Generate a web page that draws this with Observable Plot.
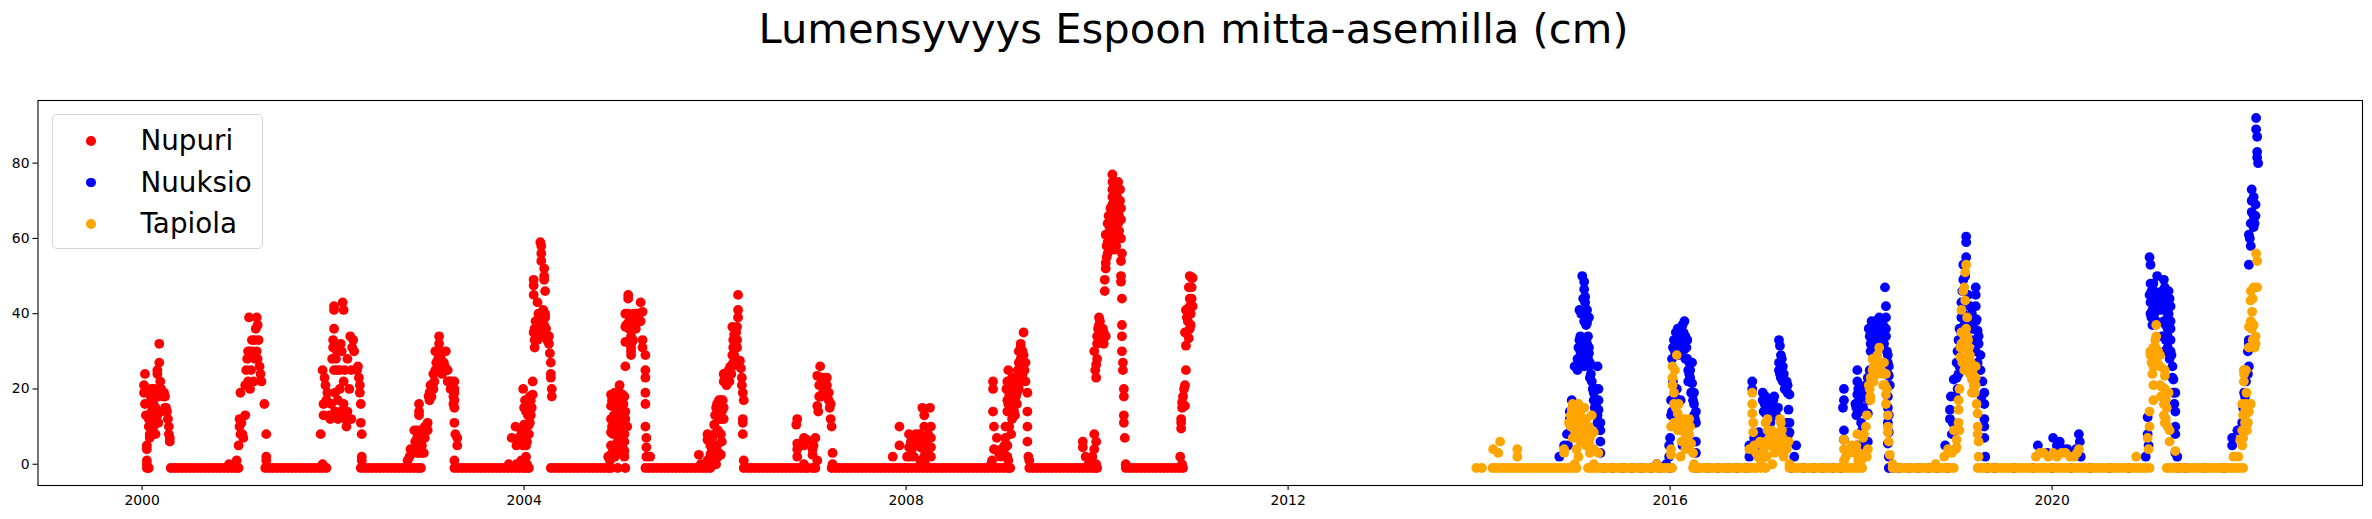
<!DOCTYPE html>
<html>
<head>
<meta charset="utf-8">
<script src="https://cdn.jsdelivr.net/npm/d3@7"></script>
<script src="https://cdn.jsdelivr.net/npm/@observablehq/plot@0.6"></script>
<style>
html,body{margin:0;padding:0;background:#fff;}
#wrap{position:relative;width:2372px;height:519px;overflow:hidden;font-family:"DejaVu Sans",sans-serif;color:#000;}
#title{height:66px;line-height:57px;text-align:center;font-size:41.67px;white-space:nowrap;padding-left:15px;box-sizing:border-box;}
#legend{position:absolute;left:51.5px;top:114px;width:209px;height:133px;border:1.4px solid #d4d4d4;border-radius:5px;background:rgba(255,255,255,.8);}
.row{position:absolute;left:0;height:42px;line-height:42px;font-size:27.78px;white-space:nowrap;}
.row i{position:absolute;left:33.5px;top:16px;width:9.7px;height:9.7px;border-radius:50%;}
.row span{position:absolute;left:88px;top:0;}
</style>
</head>
<body>
<div id="wrap">
<div id="title"></div>
<div id="plot"></div>
<div id="legend"></div>
</div>
<script>
const chartTitle = "Lumensyvyys Espoon mitta-asemilla (cm)";
const stations = ["Nupuri", "Nuuksio", "Tapiola"];
const stationColors = ["#ff0000", "#0000ff", "#ffa500"];
const yearTicks = [2000, 2004, 2008, 2012, 2016, 2020];
const depthTicks = [0, 20, 40, 60, 80];

// Readings as [decimal year, depth in cm]
const nupuri = [
[2000.02,21],[2000.02,19],[2000.03,24],[2000.03,16],[2000.04,13],[2000.05,5],[2000.05,4],[2000.05,1],[2000.05,0],[2000.05,-1],[2000.07,-1],
[2000.07,10],[2000.07,12],[2000.08,8],[2000.08,7],[2000.08,16],[2000.09,18],[2000.09,10],[2000.10,20],[2000.10,14],[2000.11,8],[2000.11,12],[2000.12,18],[2000.12,16],[2000.12,10],[2000.13,20],[2000.13,13],[2000.14,15],[2000.14,8],[2000.16,24],[2000.16,25],[2000.16,13],[2000.17,18],[2000.17,11],[2000.18,32],[2000.18,27],[2000.19,22],[2000.20,20],[2000.20,14],[2000.21,19],[2000.22,18],[2000.23,19],[2000.24,18],[2000.24,15],[2000.25,15],[2000.26,14],[2000.27,12],[2000.28,10],[2000.28,8],[2000.29,7],[2000.29,6],
[2000.91,0],[2000.99,1],[2001.01,5],[2001.01,-1],[2001.02,12],[2001.02,10],[2001.03,19],[2001.03,8],[2001.04,11],[2001.05,8],[2001.06,7],[2001.08,13],[2001.08,21],[2001.09,25],[2001.10,28],[2001.11,22],[2001.11,30],[2001.12,39],[2001.13,20],[2001.13,30],[2001.14,25],[2001.15,33],[2001.16,30],[2001.17,22],[2001.18,28],[2001.18,33],[2001.19,36],[2001.20,39],[2001.20,30],[2001.21,28],[2001.21,37],[2001.22,33],[2001.23,26],[2001.24,24],[2001.25,22],[2001.28,16],[2001.30,8],[2001.30,2],[2001.30,1],
[2001.89,0],[2001.87,8],[2001.89,25],[2001.90,13],[2001.90,16],[2001.91,23],[2001.92,21],[2001.93,17],[2001.94,19],[2001.96,13],[2001.97,12],[2001.98,16],[2001.99,28],[2002.00,31],[2002.00,33],[2002.01,36],[2002.01,41],[2002.01,42],[2002.01,25],[2002.02,19],[2002.02,14],[2002.03,28],[2002.04,30],[2002.04,25],[2002.05,17],[2002.05,12],[2002.07,20],[2002.07,25],[2002.08,32],[2002.08,14],[2002.09,30],[2002.10,43],[2002.11,41],[2002.11,22],[2002.11,16],[2002.12,25],[2002.13,12],[2002.14,10],[2002.15,14],[2002.15,28],[2002.17,20],[2002.18,34],[2002.19,25],[2002.19,12],[2002.20,31],[2002.21,33],[2002.22,30],[2002.25,25],[2002.26,26],[2002.27,23],[2002.28,21],[2002.28,19],[2002.29,16],[2002.29,11],[2002.30,8],[2002.30,2],[2002.30,1],
[2002.78,1],[2002.81,4],[2002.85,9],[2002.88,7],[2002.90,16],[2002.90,14],[2002.90,13],[2002.92,9],[2002.93,5],[2002.95,3],[2002.96,10],[2002.99,11],[2002.99,9],[2003.01,17],[2003.02,19],[2003.03,21],[2003.05,24],[2003.07,30],[2003.09,27],[2003.11,34],[2003.11,32],[2003.13,28],[2003.14,24],[2003.16,27],[2003.18,30],[2003.20,25],[2003.23,20],[2003.27,22],[2003.27,20],[2003.27,19],[2003.27,17],[2003.27,15],[2003.27,11],[2003.28,8],[2003.30,7],[2003.30,5],[2003.27,1],
[2002.80,2],[2002.83,3],[2002.85,4],[2002.86,6],[2002.88,3],[2002.88,9],[2002.90,3],[2002.90,5],[2002.91,8],[2002.92,6],[2002.94,8],[2002.95,9],[2002.96,7],[2002.97,9],[2002.98,10],[2002.93,3],
[2003.00,18],[2003.01,19],[2003.02,21],[2003.03,18],[2003.04,21],[2003.05,20],[2003.06,22],[2003.07,25],[2003.08,27],[2003.10,28],[2003.11,30],[2003.12,30],[2003.13,27],[2003.14,26],[2003.15,25],[2003.17,26],[2003.19,25],[2003.20,22],[2003.22,22],[2003.24,22],[2003.25,20],[2003.26,18],[2003.26,16],
[2003.84,0],[2003.91,10],[2003.87,7],[2003.92,5],[2003.92,0],[2003.97,1],[2003.99,20],[2004.00,15],[2004.00,10.5],[2004.02,5],[2004.02,2],[2004.03,0],[2004.04,17],[2004.05,15],[2004.05,13],[2004.05,10.5],[2004.05,8],[2004.07,13],[2004.09,22],[2004.09,18.5],
[2003.94,7],[2003.96,6],[2003.97,9],[2003.99,5],[2004.00,7],[2004.01,9],[2004.03,10],[2004.03,6],[2004.04,13],[2004.06,11],[2004.07,17],[2004.08,15],[2004.06,18],[2004.02,14],[2004.01,17],
[2004.10,49],[2004.10,47.5],[2004.10,45],[2004.10,35],[2004.11,33],[2004.11,31],[2004.14,43],[2004.15,40],[2004.15,38],[2004.16,36],[2004.17,59],[2004.18,58],[2004.18,56],[2004.18,54],[2004.21,52],[2004.21,50],[2004.21,49],[2004.22,46],[2004.22,40],[2004.22,39],[2004.22,35],[2004.26,34],[2004.26,32],[2004.27,29.5],[2004.28,27],[2004.28,24],[2004.28,23],[2004.29,20],[2004.29,18],
[2004.11,36],[2004.12,38],[2004.13,35],[2004.14,33],[2004.15,36],[2004.17,38],[2004.19,37],[2004.21,37],[2004.20,41],[2004.17,34],[2004.18,35],[2004.23,36],[2004.24,33],[2004.25,34],
[2004.88,2],[2004.91,18.5],[2004.91,15.5],[2004.91,8.5],[2004.91,5],[2004.94,17],[2004.97,15],[2004.97,4],[2004.98,-1],[2005.00,21],[2005.03,18.5],[2005.04,14],[2005.05,11],[2005.05,8],[2005.05,6],[2005.05,3.5],[2005.05,2],[2005.06,14],[2005.06,-1],[2005.08,10],
[2004.91,12],[2004.92,17],[2004.92,10],[2004.93,8],[2004.94,13],[2004.95,19],[2004.95,11],[2004.96,15],[2004.97,18],[2004.98,13],[2004.98,10],[2004.99,16],[2005.00,19],[2005.00,12],[2005.00,9],[2005.01,15],[2005.02,17],[2005.02,11],[2005.03,13],[2005.04,16],[2005.04,9],[2005.05,18],[2004.92,3],[2004.90,1],[2005.04,4],[2005.00,3],[2004.95,2],[2004.98,6],[2005.01,7],[2005.06,12],
[2005.06,40],[2005.06,36.5],[2005.06,32.5],[2005.09,45],[2005.09,44],[2005.06,26],[2005.12,34],[2005.12,30],[2005.12,29],[2005.13,32.5],[2005.15,40],[2005.20,38],[2005.22,43],[2005.24,40.5],[2005.24,33],[2005.24,31],[2005.27,29],[2005.27,25],[2005.27,23],[2005.27,19],[2005.27,16],[2005.27,10],[2005.28,7],[2005.28,4.5],[2005.28,2],[2005.32,2],
[2005.10,38],[2005.12,39],[2005.14,37],[2005.16,38],[2005.18,40],[2005.20,40],[2005.17,36],[2005.14,33],[2005.13,36],[2005.09,40],[2005.10,36],[2005.07,37],[2005.22,38],[2005.11,32],[2005.12,31],
[2005.83,2.5],[2005.85,0],[2005.92,8],[2005.92,6.5],[2005.95,5],[2005.95,2.5],[2005.92,1],[2005.99,8],[2005.99,10.5],[2005.99,2],[2005.99,5],[2006.01,0],[2006.02,5],[2006.04,17],[2006.06,17],[2006.01,15],[2006.06,12],[2006.06,8],[2006.07,6],[2006.06,2.5],[2006.09,22],[2006.09,15],[2006.09,12],[2006.09,24],[2006.13,23],[2006.15,22],[2006.16,26],[2006.18,29],[2006.18,36.5],[2006.20,34.5],[2006.20,29],[2006.23,36.5],[2006.23,33],[2006.23,31],[2006.24,39],[2006.24,41],[2006.24,45],[2006.26,27.5],[2006.27,25.5],[2006.28,23],[2006.28,21],[2006.29,19],[2006.30,17],[2006.29,12],[2006.29,11],[2006.29,8],[2006.30,1],
[2005.96,3],[2005.97,4],[2005.97,7],[2005.94,7],[2006.00,3],[2006.03,2],[2006.03,9],[2006.05,12],[2006.03,14],[2006.07,14],[2006.08,17],[2006.05,15],[2006.00,13],[2006.02,16],[2006.04,3],[2006.10,24],[2006.11,23],[2006.12,21],[2006.14,25],[2006.17,24],[2006.19,27],[2006.20,31],[2006.21,33],[2006.22,35],[2006.19,33],[2006.19,31],[2006.18,26],
[2006.86,12],[2006.85,10.5],[2006.86,5.5],[2006.86,4],[2006.86,2],[2006.93,7],[2006.93,5],[2006.93,0],[2006.96,6.5],[2007.02,4],[2007.02,2.5],[2007.05,7],[2007.03,5],[2007.07,1],
[2007.10,26],[2007.07,23.5],[2007.17,23],[2007.09,21],[2007.14,21],[2007.19,19],[2007.09,18],[2007.16,18.5],[2007.21,16],[2007.07,15.5],[2007.08,14],[2007.21,12],[2007.22,10],[2007.23,3],[2007.23,0],
[2007.11,23],[2007.12,21],[2007.13,19],[2007.14,23],[2007.15,20],[2007.17,21],[2007.11,18],[2007.19,17],[2007.20,15],
[2007.86,2],[2007.93,10],[2007.93,5],[2008.03,8],[2008.10,8],[2008.03,4.5],[2008.01,2],[2008.06,4],[2008.17,6],[2008.17,15],[2008.25,15],[2008.19,13],[2008.19,10],[2008.26,10],[2008.26,7],[2008.26,4.5],[2008.26,2],[2008.15,4.5],[2008.12,6],[2008.20,0],[2008.15,1],[2008.08,2],
[2008.05,6],[2008.07,5],[2008.14,8],[2008.16,7],[2008.20,3],[2008.22,5],[2008.23,8],[2008.04,2],[2008.19,2],
[2008.91,22],[2008.91,20],[2008.91,14],[2008.92,10],[2008.95,7],[2008.92,4],[2008.90,1],[2008.89,0],[2008.97,3],[2009.04,7],[2009.04,4.5],[2009.07,10],[2009.07,25],[2009.11,12],[2009.06,22],[2009.08,19],[2009.06,17],[2009.13,14],[2009.13,17],[2009.09,20],[2009.16,19],[2009.15,18],[2009.20,32],[2009.20,31],[2009.18,30],[2009.23,35],[2009.23,29],[2009.25,27],[2009.22,26],[2009.16,21],[2009.25,22],[2009.27,19],[2009.27,14],[2009.27,10],[2009.27,6],[2009.28,2],[2009.29,1],[2009.07,1],
[2009.08,18],[2009.09,21],[2009.10,17],[2009.11,23],[2009.12,15],[2009.12,20],[2009.13,22],[2009.14,13],[2009.15,23],[2009.16,16],[2009.17,25],[2009.18,20],[2009.18,27],[2009.19,23],[2009.20,28],[2009.21,22],[2009.22,24],[2009.22,30],[2009.23,27],[2009.24,25],[2009.05,20],[2009.07,16],[2009.06,14],[2009.08,10],[2009.09,14],[2009.10,8],[2009.04,10],[2009.03,5],[2009.02,3],[2009.06,5],[2009.06,2],[2008.99,2],[2009.00,4],
[2009.85,6],[2009.85,4.5],[2009.97,8],[2009.99,6],[2009.97,4],[2009.95,2],[2009.88,2],[2009.91,0],[2009.99,0],
[2009.99,23],[2009.99,26.5],[2010.00,28],[2009.97,30],[2010.00,32],[2010.02,39],[2010.02,37],[2010.04,35],[2010.07,35],[2010.09,34],[2010.05,33],[2010.08,46],[2010.08,49],[2010.10,55],[2010.10,58],[2010.09,61],[2010.11,64],[2010.12,66],[2010.14,68],[2010.18,63],[2010.19,67],[2010.16,77],[2010.16,75],[2010.16,73],[2010.16,71],[2010.22,75],[2010.24,73],[2010.21,71],[2010.24,70],[2010.25,68],[2010.25,65],[2010.21,64],[2010.18,65],[2010.25,60],[2010.26,56],[2010.25,54],[2010.25,50],[2010.25,48.5],[2010.26,44],[2010.26,37],[2010.26,34],[2010.26,30],[2010.27,27],[2010.27,25],[2010.28,20],[2010.28,18],[2010.28,13],[2010.28,11],[2010.29,7],[2010.30,0],
[2010.00,34],[2010.01,36],[2010.03,38],[2010.04,33],[2010.06,36],[2010.03,34],[2010.06,33],[2010.07,32],[2009.98,25],[2010.09,52],[2010.09,53.5],[2010.11,56],[2010.11,59],[2010.12,61],[2010.13,63],[2010.14,65],[2010.15,62],[2010.16,60],[2010.17,67],[2010.17,64],[2010.17,62],[2010.18,57],[2010.19,60],[2010.20,58],[2010.20,61],[2010.21,67],[2010.22,64],[2010.23,62],[2010.23,66],[2010.15,68],[2010.16,69],[2010.19,69],[2010.20,72],[2010.18,72],[2010.18,75],[2010.20,68],
[2010.87,2],[2010.89,0],[2010.88,12],[2010.88,11],[2010.88,9.5],[2010.89,16.5],[2010.89,15],[2010.92,15.5],[2010.92,21],[2010.93,25],[2010.93,31.5],[2010.96,33.5],[2010.92,35],[2010.97,36],[2010.95,38],[2010.98,37],[2010.93,41],[2010.97,42],[2011.00,42],[2010.97,44],[2010.96,47],[2010.99,47],[2010.99,49.5],[2011.00,49.5],[2010.97,50],
[2010.90,18],[2010.91,20],[2010.94,35],[2010.94,39],[2010.96,40],[2010.98,40],[2010.99,44]
];

// Days at the bare-ground reading, decimal years
const nupuriBare = [
2000.30,2000.34,2000.38,2000.42,2000.46,2000.50,2000.54,2000.58,2000.62,2000.66,2000.70,2000.74,2000.78,2000.82,2000.86,2000.90,2000.94,2000.98,
2001.29,2001.33,2001.37,2001.41,2001.45,2001.49,2001.53,2001.57,2001.61,2001.65,2001.69,2001.73,2001.77,2001.81,2001.85,2001.89,2001.93,
2002.29,2002.33,2002.37,2002.41,2002.45,2002.49,2002.53,2002.57,2002.61,2002.65,2002.69,2002.73,2002.77,2002.81,2002.85,2002.89,2002.92,
2003.27,2003.31,2003.35,2003.39,2003.43,2003.47,2003.51,2003.55,2003.59,2003.63,2003.67,2003.71,2003.75,2003.79,2003.83,2003.87,2003.91,2003.95,2003.99,2004.02,2004.05,
2004.28,2004.32,2004.36,2004.40,2004.44,2004.48,2004.52,2004.56,2004.60,2004.64,2004.68,2004.72,2004.76,2004.80,2004.84,2004.88,2004.91,
2005.27,2005.31,2005.35,2005.39,2005.43,2005.47,2005.51,2005.55,2005.59,2005.63,2005.67,2005.71,2005.75,2005.79,2005.83,2005.87,2005.91,2005.95,
2006.30,2006.34,2006.38,2006.42,2006.46,2006.50,2006.54,2006.58,2006.62,2006.66,2006.70,2006.74,2006.78,2006.82,2006.86,2006.90,2006.94,2006.97,2007.02,2007.05,
2007.22,2007.26,2007.30,2007.34,2007.38,2007.42,2007.46,2007.50,2007.54,2007.58,2007.62,2007.66,2007.70,2007.74,2007.78,2007.82,2007.86,2007.90,2007.94,2007.98,2008.02,2008.06,2008.10,2008.14,2008.18,2008.22,2008.26,2008.30,2008.34,2008.38,2008.42,2008.46,2008.50,2008.54,2008.58,2008.62,2008.66,2008.70,2008.74,2008.78,2008.82,2008.86,2008.90,2008.94,2008.98,2009.02,2009.06,2009.09,
2009.29,2009.33,2009.37,2009.41,2009.45,2009.49,2009.53,2009.57,2009.61,2009.65,2009.69,2009.73,2009.77,2009.81,2009.85,2009.89,2009.93,2009.97,2010.00,
2010.30,2010.34,2010.38,2010.42,2010.46,2010.50,2010.54,2010.58,2010.62,2010.66,2010.70,2010.74,2010.78,2010.82,2010.86,2010.90
];

const nuuksio = [
[2014.84,2],[2014.89,5],[2014.94,8],[2014.95,12],[2014.98,15],[2015.03,25],[2015.03,28],[2015.05,31],[2015.05,41],[2015.08,50],[2015.10,48.5],[2015.10,46.5],[2015.11,44.5],[2015.11,43],[2015.13,41],[2015.15,39],[2015.10,38],[2015.12,37],[2015.14,34],[2015.15,31],[2015.15,29.5],[2015.12,27],[2015.15,26],[2015.17,24],[2015.24,26],[2015.19,20],[2015.25,20],[2015.20,17],[2015.25,17],[2015.25,14.5],[2015.24,13],[2015.27,11],[2015.27,9],[2015.27,6],[2015.27,3],
[2014.92,8],[2014.93,5],[2014.95,14],[2014.96,10],[2014.97,17],[2014.99,12],[2015.01,14],[2015.00,26],[2015.04,31],[2015.04,26],[2015.05,33],[2015.06,30],[2015.07,27],[2015.08,33],[2015.09,31],[2015.09,28],[2015.10,26],[2015.06,34],[2015.12,33],[2015.13,32],[2015.13,29],[2015.14,28],[2015.16,27],[2015.16,23],[2015.18,22],[2015.20,19],[2015.22,20],[2015.21,15],[2015.23,15],[2015.24,11],[2015.07,40],[2015.09,44],[2015.12,40],[2015.13,37.5],
[2015.86,0],[2015.96,0],
[2015.99,2],[2015.99,5],[2016.00,7],[2016.01,13],[2016.01,17],[2016.02,28],[2016.06,35],[2016.09,32],[2016.15,38],[2016.13,37],[2016.18,33],[2016.15,30.5],[2016.20,27],[2016.23,27],[2016.20,24],[2016.23,21.5],[2016.25,19],[2016.25,16],[2016.27,14],[2016.27,11],[2016.27,6],[2016.27,3],[2016.13,5],[2016.11,17],[2016.06,29],[2016.09,29],
[2016.03,31],[2016.04,33],[2016.05,30],[2016.07,33],[2016.08,36],[2016.09,34],[2016.10,36],[2016.11,33],[2016.12,34],[2016.12,31],[2016.14,35],[2016.16,34],[2016.17,31],[2016.16,28],[2016.18,28],[2016.19,25],[2016.21,25],[2016.21,23],[2016.22,19],[2016.24,17],[2016.25,13],[2016.26,12],[2016.03,22],[2016.05,18],[2016.06,16],[2016.07,20],[2016.02,14],[2016.21,27],[2016.19,22],
[2016.86,22],[2016.86,20],[2016.83,5],[2016.83,2],[2016.88,7],[2016.93,8.5],[2016.97,19],[2016.99,16],[2017.09,18],[2017.00,13.5],[2017.09,15],[2017.14,33],[2017.15,31.5],[2017.16,29],[2017.14,25],[2017.18,26],[2017.18,22],[2017.23,21],[2017.25,18.5],[2017.24,14.5],[2017.25,11],[2017.25,8.5],[2017.32,5],[2017.30,2],
[2016.97,17],[2016.98,14],[2017.00,18],[2017.01,15],[2017.02,13],[2017.03,12],[2017.05,11],[2017.06,16],[2017.07,13],[2017.08,17],[2017.10,14],[2017.11,13],[2017.13,15],[2017.14,27],[2017.15,24],[2017.16,23],[2017.17,28],[2017.19,24],[2017.20,20],[2017.22,22],[2017.23,19],[2016.90,5],[2016.93,6],[2016.95,4],[2016.98,7],[2017.22,11],[2017.24,8],
[2017.82,20],[2017.82,17],[2017.81,15],[2017.82,9],[2017.82,6.5],[2017.96,25],[2017.96,22],[2017.96,18.5],[2017.95,15],[2017.95,13],[2018.07,23],[2018.07,13.5],[2018.03,10],[2018.03,6],[2018.11,38],[2018.10,36],[2018.19,39],[2018.26,39],[2018.25,47],[2018.26,42],[2018.26,36],[2018.21,34],[2018.10,32],[2018.24,32],[2018.28,29],[2018.29,26],[2018.29,23.5],[2018.28,18],[2018.29,13],[2018.29,8.5],[2018.28,5.5],
[2017.94,16],[2017.97,20],[2017.98,17],[2017.99,14],[2018.00,11],[2018.01,9],[2018.02,15],[2018.04,18],[2018.05,21],[2018.06,19],[2018.08,17],[2018.09,25],[2018.08,36],[2018.09,34],[2018.12,34],[2018.13,36],[2018.14,33],[2018.15,38],[2018.16,35],[2018.17,32],[2018.18,37],[2018.20,36],[2018.22,34],[2018.23,37],[2018.24,35],[2018.26,34],[2018.27,30],[2018.28,27],[2018.28,24],[2018.30,21],[2018.28,15],[2018.28,11],[2018.07,6],[2018.10,30],[2018.29,2],[2017.96,5],[2018.00,5],
[2018.88,5],[2018.93,12],[2018.93,14.5],[2018.97,22.5],[2019.00,27],[2019.02,24],[2019.03,36],[2019.05,39],[2019.05,43],[2019.07,49],[2019.07,53],[2019.10,55],[2019.10,59],[2019.10,60.5],[2019.20,47],[2019.20,45],[2019.20,42],[2019.21,38.5],[2019.22,35.5],[2019.23,32],[2019.25,29],[2019.25,25],[2019.27,22],[2019.29,19],[2019.29,16],[2019.29,12],[2019.29,10],[2019.29,7],[2019.30,2],
[2018.95,8],[2018.96,11],[2018.94,18],[2018.99,18],[2019.00,23],[2019.01,20],[2019.01,30],[2019.02,33],[2019.04,31],[2019.05,35],[2019.06,46],[2019.07,40],[2019.08,37],[2019.09,50],[2019.12,45],[2019.13,38],[2019.14,42],[2019.15,36],[2019.16,40],[2019.17,36],[2019.18,33],[2019.20,30],[2019.22,27],[2019.24,25],[2019.26,18],[2019.20,38],[2019.23,34],[2019.03,26],
[2019.85,5],[2020.01,7],[2020.08,6],[2020.16,4],[2020.28,8],[2020.29,6],[2020.30,2],
[2019.95,3],[2020.05,5],[2020.12,4],[2020.20,3],[2020.25,4],
[2020.98,2],[2021.01,5],[2021.00,8],[2021.00,12.5],[2021.02,55],[2021.03,53],[2021.03,48],[2021.10,50],[2021.05,44],[2021.03,40],[2021.05,37],[2021.10,44],[2021.17,49],[2021.17,45.5],[2021.20,43],[2021.24,42],[2021.22,40],[2021.24,38],[2021.24,36],[2021.17,34],[2021.24,33],[2021.24,30],[2021.26,26],[2021.27,22.5],[2021.29,19],[2021.29,14],[2021.29,10],[2021.29,8],[2021.29,3],[2021.31,2],
[2021.04,46],[2021.06,48],[2021.07,46],[2021.08,44],[2021.09,42],[2021.05,41],[2021.07,40],[2021.09,38],[2021.12,43],[2021.14,41],[2021.15,46],[2021.16,43],[2021.18,47],[2021.19,42],[2021.19,45],[2021.21,40],[2021.22,46],[2021.23,44],[2021.17,38],[2021.19,37],[2021.21,36],[2021.15,34],[2021.19,33],[2021.21,31],[2021.23,28],[2021.25,29],[2021.26,23],[2021.27,19],[2021.28,16],[2021.18,30],[2021.21,34],[2021.02,45],[2021.03,43],[2021.04,39],
[2021.885,7],[2021.885,5],[2021.94,9],[2021.99,11],[2022.01,19],[2022.06,26],[2022.06,32],[2022.06,53],[2022.08,58],[2022.06,61],[2022.11,63],[2022.11,66],[2022.13,69],[2022.09,73],[2022.11,71],[2022.136,92],[2022.136,89],[2022.147,87],[2022.147,83],[2022.147,81.5],[2022.157,80],
[2022.00,15],[2022.02,18],[2022.03,22],[2022.05,24],[2022.05,30],[2022.06,33],[2022.09,67],[2022.13,66],[2022.12,64],[2022.08,64],[2022.07,60],[2022.09,70]
];

const nuuksioBare = [
2015.30,2015.40,2015.50,2015.60,2015.70,2015.80,2015.90,2016.00,
2016.28,2016.40,2016.50,2016.60,2016.70,2016.80,2017.27,2017.40,2017.50,2017.60,2017.70,2017.78,
2018.29,2018.33,2018.40,2018.50,2018.60,2018.70,2018.80,2018.90,2019.32,2019.40,2019.60,2019.80,2020.00,2020.20,2020.40,2020.60,2020.80,2021.32,2021.40,2021.60,2021.80
];

const tapiola = [
[2014.147,4],[2014.20,3],[2014.22,6],[2014.40,4],[2014.40,2],
[2014.89,4],[2014.89,3],[2014.97,14.5],[2014.96,13],[2014.94,11],[2015.04,16],[2015.10,15],[2015.18,13],[2014.98,13],[2015.00,9],[2015.15,10],[2015.20,8.5],[2014.98,7],[2015.08,6],[2015.15,5.5],[2015.20,4],[2015.04,2],[2015.00,0],[2015.25,3],[2015.20,0],
[2014.96,10],[2014.98,16],[2015.00,15],[2015.02,14],[2015.04,13],[2015.05,11],[2015.06,14],[2015.08,12],[2015.08,9],[2015.10,11],[2015.12,12],[2015.14,9],[2015.16,7],[2015.00,11],[2015.02,7],[2015.03,9],[2015.06,6],[2015.10,7],[2015.12,5],[2015.16,3],[2015.02,4],
[2015.86,0],
[2016.07,29],[2016.025,26],[2016.025,23],[2016.025,21],[2016.04,19],[2016.01,10],[2016.01,4],[2016.01,2.5],[2016.09,16],[2016.08,13.5],[2016.15,12],[2016.20,12],[2016.11,9],[2016.20,8],[2016.11,2],[2016.22,5.5],[2016.24,3],[2016.25,0],
[2016.04,16],[2016.05,25],[2016.06,15],[2016.07,11],[2016.08,9],[2016.10,11],[2016.12,9],[2016.12,6],[2016.14,11],[2016.16,8],[2016.16,4],[2016.18,7],[2016.19,5],[2016.21,10],[2016.04,11],
[2016.86,19],[2016.86,16],[2016.86,13.5],[2016.87,11],[2016.87,8.5],[2016.83,4],[2016.88,5],[2016.97,5],[2016.95,1],[2017.02,12],[2017.02,9],[2017.06,5],[2017.16,11],[2017.14,8.5],[2017.11,6],[2017.19,5],[2017.24,6],[2017.07,0],[2017.19,2],[2017.25,0],
[2016.90,3],[2016.92,2],[2016.94,6],[2016.98,3],[2017.00,11],[2017.00,6],[2017.03,5],[2017.04,7],[2017.06,9],[2017.08,7],[2017.10,5],[2017.12,7],[2017.15,12],[2017.17,9],[2017.18,7],[2017.20,6],[2017.22,4],[2017.13,4],[2017.17,3],[2017.01,2],[2017.09,3],
[2017.82,6.5],[2017.82,4],[2017.82,1],[2017.89,4],[2017.96,8],[2017.95,5],[2018.06,13],[2018.05,10],[2018.03,8],[2018.07,4],[2018.095,18],[2018.095,17],[2018.08,21],[2018.12,28],[2018.19,31],[2018.24,27],[2018.12,25],[2018.26,24],[2018.23,21],[2018.26,18.5],[2018.26,16],[2018.28,13],[2018.28,10],[2018.28,8.5],[2018.29,6],[2018.30,2.5],[2018.33,0],
[2017.84,2],[2017.86,3],[2017.90,5],[2017.93,3],[2017.97,1],[2017.98,3],[2018.00,1],[2018.02,7],[2018.06,2],[2018.10,23],[2018.13,22],[2018.13,26],[2018.15,25],[2018.17,29],[2018.17,27],[2018.18,24],[2018.21,25],[2018.23,24],[2018.25,21],[2018.27,20],[2018.09,20],
[2018.78,0],[2018.87,2],[2018.91,4],[2018.97,9],[2019.00,6.5],[2019.00,4.5],[2019.02,14.5],[2019.02,17],[2019.03,20],[2019.04,28.5],[2019.05,35],[2019.11,34],[2019.09,31],[2019.07,28],[2019.05,41],[2019.08,47],[2019.09,51],[2019.10,53],[2019.11,39],[2019.09,43.5],[2019.13,31],[2019.13,26],[2019.20,26],[2019.16,22.5],[2019.20,21],[2019.16,19],[2019.21,16],[2019.22,13.5],[2019.22,10],[2019.22,8],[2019.23,6],[2019.23,2],
[2018.95,3],[2018.99,4],[2019.02,11],[2019.03,9],[2019.04,31],[2019.05,32],[2019.06,27],[2019.08,33],[2019.10,36],[2019.12,30],[2019.12,33],[2019.14,29],[2019.14,24],[2019.15,27],[2019.17,24],[2019.18,21],[2019.19,19],[2019.20,23],[2019.08,25],[2019.09,27],[2019.11,28],[2019.07,46],
[2019.83,2],[2019.91,3],[2020.01,3],[2020.10,3],[2020.19,2],[2020.26,3],[2020.28,4],
[2019.87,3],[2019.96,2],[2020.05,2],[2020.14,3],[2020.23,2],
[2020.88,2],[2021.01,4],[2021.00,7],[2021.02,10],[2021.02,14],[2021.09,37],[2021.09,34],[2021.08,31],[2021.03,29],[2021.13,29],[2021.06,26],[2021.18,25],[2021.18,23.5],[2021.06,21],[2021.06,17],[2021.15,20.5],[2021.22,19],[2021.17,16],[2021.17,13],[2021.18,11],[2021.23,9],[2021.23,6],[2021.29,3.5],
[2021.03,30],[2021.04,27],[2021.05,24],[2021.07,28],[2021.07,26],[2021.09,29],[2021.10,27],[2021.11,30],[2021.13,26],[2021.14,18],[2021.16,18],[2021.18,20],[2021.19,17],[2021.20,15],[2021.19,12],[2021.21,10],[2021.08,33],[2021.06,31],[2021.13,21],
[2021.90,2],[2021.95,2],[2021.97,6.5],[2021.99,5],[2021.99,9],[2022.02,11],[2021.99,16],[2022.08,16],[2022.04,13.5],[2022.035,19],[2022.007,22],[2022.007,25],[2022.06,31],[2022.13,32],[2022.13,34],[2022.11,37],[2022.06,36.5],[2022.094,40.5],[2022.077,43.5],[2022.08,46],[2022.147,47],[2022.147,54],[2022.136,56],
[2022.00,13],[2022.02,14],[2022.03,16],[2022.05,11],[2022.04,9],[2022.06,14],[2022.00,7],[2022.01,24],[2022.03,25],[2022.10,33],[2022.12,31],[2022.08,38],[2022.09,36],[2022.10,44],[2022.11,47]
];

const tapiolaBare = [
2013.97,2014.03,
2014.14,2014.18,2014.22,2014.26,2014.30,2014.34,2014.38,2014.42,2014.46,2014.50,2014.54,2014.58,2014.62,2014.66,2014.70,2014.74,2014.78,2014.82,2014.86,2014.90,2014.94,2014.98,2015.02,
2015.14,2015.18,2015.22,2015.26,2015.30,2015.34,2015.38,2015.42,2015.46,2015.50,2015.54,2015.58,2015.62,2015.66,2015.70,2015.74,2015.78,2015.82,2015.86,2015.90,2015.94,2015.98,2016.02,
2016.24,2016.28,2016.32,2016.36,2016.40,2016.44,2016.48,2016.52,2016.56,2016.60,2016.64,2016.68,2016.72,2016.76,2016.80,2016.84,2016.88,
2016.90,2016.95,2017.00,
2017.25,2017.29,2017.33,2017.37,2017.41,2017.45,2017.49,2017.53,2017.57,2017.61,2017.65,2017.69,2017.73,2017.77,2017.81,2017.85,2017.89,2017.93,2017.97,2018.01,
2018.33,2018.37,2018.41,2018.45,2018.49,2018.53,2018.57,2018.61,2018.65,2018.69,2018.73,2018.77,2018.81,2018.85,2018.89,2018.93,2018.97,
2019.22,2019.26,2019.30,2019.34,2019.38,2019.42,2019.46,2019.50,2019.54,2019.58,2019.62,2019.66,2019.70,2019.74,2019.78,2019.82,2019.86,2019.90,2019.94,2019.98,2020.02,2020.06,2020.10,2020.14,2020.18,2020.22,2020.26,2020.30,2020.34,2020.38,2020.42,2020.46,2020.50,2020.54,2020.58,2020.62,2020.66,2020.70,2020.74,2020.78,2020.82,2020.86,2020.90,2020.94,2020.98,2021.02,
2021.20,2021.24,2021.28,2021.32,2021.36,2021.40,2021.44,2021.48,2021.52,2021.56,2021.60,2021.64,2021.68,2021.72,2021.76,2021.80,2021.84,2021.88,2021.92,2021.96,2022.00
];

function rows(readings, bare, station) {
  return [
    ...bare.map(t => ({t, depth: -1, station})),
    ...readings.map(([t, depth]) => ({t, depth, station}))
  ];
}
const table = [
  ...rows(nupuri, nupuriBare, stations[0]),
  ...rows(nuuksio, nuuksioBare, stations[1]),
  ...rows(tapiola, tapiolaBare, stations[2])
];

const chart = Plot.plot({
  width: 2372,
  height: 453,
  marginLeft: 37.5,
  marginRight: 10,
  marginTop: 34,
  marginBottom: 34,
  style: {fontFamily: '"DejaVu Sans", sans-serif', fontSize: "13.9px", color: "#000", background: "transparent"},
  x: {type: "linear", domain: [1998.91, 2023.25]},
  y: {domain: [-5.65, 96.65]},
  color: {domain: stations, range: stationColors},
  marks: [
    Plot.dot(table, {x: "t", y: "depth", fill: "station", r: 4.9, stroke: null}),
    Plot.frame({stroke: "#000", strokeWidth: 1.1}),
    Plot.axisX({ticks: yearTicks, tickFormat: d => String(d), tickSize: 5, tickPadding: 4.5, label: null, strokeWidth: 1.1, fontVariant: "normal"}),
    Plot.axisY({ticks: depthTicks, tickSize: 5, tickPadding: 3.5, label: null, strokeWidth: 1.1, fontVariant: "normal"})
  ]
});
document.getElementById("plot").appendChild(chart);
document.getElementById("title").textContent = chartTitle;

const legend = document.getElementById("legend");
stations.forEach((name, i) => {
  const row = document.createElement("div");
  row.className = "row";
  row.style.top = (5 + i * 41.7) + "px";
  const mark = document.createElement("i");
  mark.style.background = stationColors[i];
  const label = document.createElement("span");
  label.textContent = name;
  row.append(mark, label);
  legend.append(row);
});
</script>
</body>
</html>
